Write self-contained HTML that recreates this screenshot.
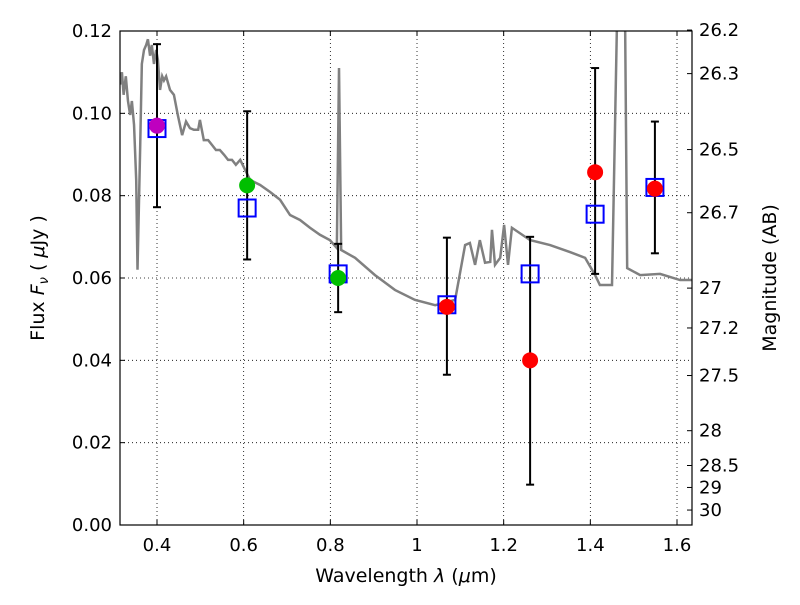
<!DOCTYPE html>
<html><head><meta charset="utf-8"><style>
body{margin:0;background:#fff}
svg text{font-family:"DejaVu Sans","Liberation Sans",sans-serif;fill:#000}
</style></head><body>
<svg id="chart" width="800" height="600" xmlns="http://www.w3.org/2000/svg"></svg>
<script>
const xTicks=[0.4,0.6,0.8,1.0,1.2,1.4,1.6];
const xTickLabels=["0.4","0.6","0.8","1","1.2","1.4","1.6"];
const yTicks=[0,0.02,0.04,0.06,0.08,0.10,0.12];
const yTickLabels=["0.00","0.02","0.04","0.06","0.08","0.10","0.12"];
const magTicks=[26.2,26.3,26.5,26.7,27,27.2,27.5,28,28.5,29,30];
const magLabels=["26.2","26.3","26.5","26.7","27","27.2","27.5","28","28.5","29","30"];
const specX=[0.315,0.319,0.323,0.328,0.333,0.338,0.342,0.347,0.352,0.355,0.361,0.365,0.370,0.375,0.379,0.384,0.388,0.393,0.398,0.402,0.407,0.412,0.416,0.421,0.430,0.439,0.448,0.458,0.467,0.476,0.485,0.495,0.499,0.508,0.518,0.527,0.536,0.545,0.555,0.564,0.573,0.582,0.592,0.615,0.638,0.661,0.684,0.707,0.730,0.753,0.776,0.799,0.815,0.820,0.825,0.857,0.903,0.949,0.995,1.042,1.088,1.111,1.122,1.134,1.145,1.157,1.169,1.173,1.180,1.192,1.201,1.210,1.219,1.261,1.307,1.353,1.388,1.411,1.422,1.450,1.462,1.480,1.485,1.515,1.561,1.607,1.635];
const specY=[0.107,0.110,0.1045,0.109,0.103,0.0996,0.103,0.0972,0.0838,0.062,0.091,0.112,0.1154,0.1166,0.118,0.114,0.1166,0.112,0.1154,0.113,0.1057,0.109,0.108,0.109,0.1057,0.1045,0.0996,0.0947,0.098,0.0964,0.096,0.096,0.0984,0.0935,0.0935,0.0923,0.0911,0.0911,0.0899,0.0887,0.0887,0.0875,0.0887,0.0838,0.0826,0.0809,0.079,0.0753,0.0741,0.0722,0.0705,0.0692,0.0673,0.111,0.0668,0.0649,0.0607,0.0571,0.0547,0.0534,0.0547,0.068,0.0685,0.0632,0.0692,0.0637,0.0639,0.0717,0.0632,0.0649,0.0729,0.0632,0.0722,0.0692,0.068,0.0663,0.0649,0.0607,0.0583,0.0583,0.125,0.125,0.0624,0.0607,0.061,0.0595,0.0595];
const modelX=[0.4,0.608,0.818,1.069,1.261,1.411,1.549];
const modelY=[0.0963,0.077,0.061,0.0535,0.061,0.0755,0.082];
const obsX=[0.4,0.608,0.818,1.069,1.261,1.411,1.549];
const obsY=[0.097,0.0825,0.060,0.053,0.040,0.0857,0.0817];
const obsLo=[0.0772,0.0645,0.0517,0.0365,0.0098,0.061,0.066];
const obsHi=[0.1168,0.1005,0.0683,0.0698,0.0700,0.111,0.098];
const obsColor=["#bf00bf","#00bf00","#00bf00","#ff0000","#ff0000","#ff0000","#ff0000"];

const L=120,R=692,T=31,B=525,xmin=0.3146,xmax=1.6346,ymin=0,ymax=0.12;
const sx=v=>L+(v-xmin)/(xmax-xmin)*(R-L);
const sy=v=>B-(v-ymin)/(ymax-ymin)*(B-T);
const svg=document.getElementById('chart');
const NS="http://www.w3.org/2000/svg";
function mk(tag,attrs,parent){const e=document.createElementNS(NS,tag);for(const k in attrs)e.setAttribute(k,attrs[k]);(parent||svg).appendChild(e);return e;}
const defs=mk('defs',{});
const cp=mk('clipPath',{id:'clip'},defs);mk('rect',{x:L,y:T,width:R-L,height:B-T},cp);

xTicks.forEach((t,i)=>{
 const g=mk('line',{x1:sx(t),x2:sx(t),y1:T,y2:B,stroke:'#000','stroke-dasharray':'1,3','stroke-width':0.8});
 
 
 mk('line',{x1:sx(t),x2:sx(t),y1:B,y2:B-5,stroke:'#000'});
 mk('line',{x1:sx(t),x2:sx(t),y1:T,y2:T+5,stroke:'#000'});
 const tx=mk('text',{x:sx(t),y:B+26,'text-anchor':'middle','font-size':18});
 tx.textContent=xTickLabels[i];
 
 
});
yTicks.forEach((t,i)=>{
 if(t>0&&t<0.12){const g=mk('line',{x1:L,x2:R,y1:sy(t),y2:sy(t),stroke:'#000','stroke-dasharray':'1,3','stroke-width':0.8});
 
 }
 mk('line',{x1:L,x2:L+5,y1:sy(t),y2:sy(t),stroke:'#000'});
 const tx=mk('text',{x:L-8,y:sy(t)+6,'text-anchor':'end','font-size':18});
 tx.textContent=yTickLabels[i];
 
 
});
magTicks.forEach((m,i)=>{
 const f=Math.pow(10,(23.9-m)/2.5);const y=sy(f);
 mk('line',{x1:R,x2:R-5,y1:y,y2:y,stroke:'#000'});
 const tx=mk('text',{x:R+7,y:y+6,'font-size':18});
 tx.textContent=magLabels[i];
 
 
});

const pg=mk('g',{'clip-path':'url(#clip)'});
const sp=mk('polyline',{points:specX.map((x,i)=>sx(x)+','+sy(specY[i])).join(' '),fill:'none',stroke:'#808080','stroke-width':2.5},pg);



obsX.forEach((x,i)=>{
 const X=sx(x);
 const eb=mk('g',{stroke:'#000','stroke-width':2});
 
 
 mk('line',{x1:X,x2:X,y1:sy(obsHi[i]),y2:sy(obsLo[i])},eb);
 mk('line',{x1:X-4,x2:X+4,y1:sy(obsHi[i]),y2:sy(obsHi[i])},eb);
 mk('line',{x1:X-4,x2:X+4,y1:sy(obsLo[i]),y2:sy(obsLo[i])},eb);
});
modelX.forEach((x,i)=>{
 const r=mk('rect',{x:sx(x)-8.5,y:sy(modelY[i])-8.5,width:17,height:17,fill:'none',stroke:'#0000ff','stroke-width':2});
 
 
});
obsX.forEach((x,i)=>{
 const c=mk('circle',{cx:sx(x),cy:sy(obsY[i]),r:8,fill:obsColor[i]});
 
 
});

const fr=mk('rect',{x:L,y:T,width:R-L,height:B-T,fill:'none',stroke:'#000','stroke-width':1.2});



const xl=mk('text',{x:406,y:582,'text-anchor':'middle','font-size':19});
xl.innerHTML='Wavelength  <tspan font-style="italic">λ</tspan> (<tspan font-style="italic">μ</tspan>m)';


const yl=mk('text',{x:0,y:0,'text-anchor':'middle','font-size':19,transform:'translate(44,278) rotate(-90)'});
yl.innerHTML='Flux  <tspan font-style="italic">F</tspan><tspan font-style="italic" font-size="13" dy="4">ν</tspan><tspan dy="-4">  (  </tspan><tspan font-style="italic">μ</tspan>Jy )';


const rl=mk('text',{x:0,y:0,'text-anchor':'middle','font-size':19,transform:'translate(776,278) rotate(-90)'});
rl.textContent='Magnitude (AB)';


</script>
</body></html>
